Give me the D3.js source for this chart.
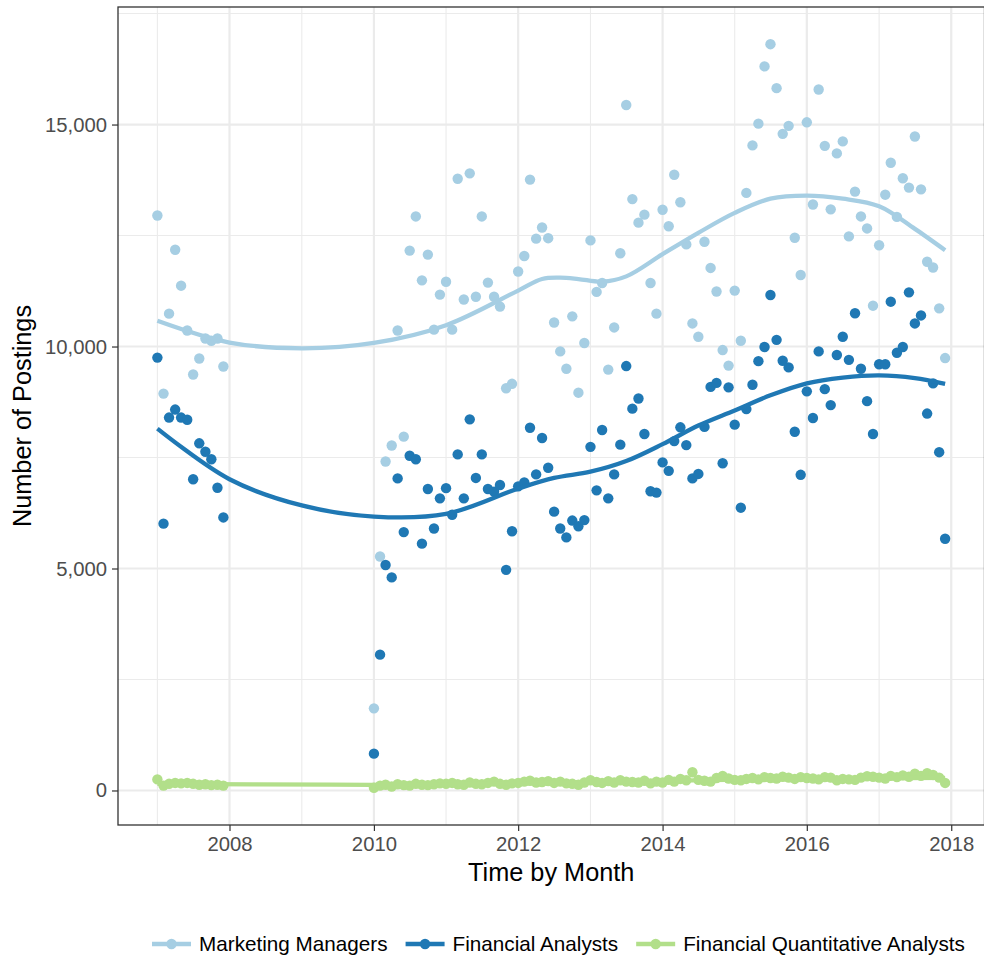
<!DOCTYPE html>
<html>
<head>
<meta charset="utf-8">
<script src="https://cdn.jsdelivr.net/npm/d3@7"></script>
<style>
  html, body { margin: 0; padding: 0; background: #ffffff; }
  svg { display: block; font-family: "Liberation Sans", Arial, Helvetica, sans-serif; }
</style>
</head>
<body>
<svg id="chart" width="984" height="963"></svg>
<script>
// Monthly observation periods: 2007, then 2010 through 2017
const periods = [
  ...d3.timeMonth.range(new Date(2007, 0, 1), new Date(2008, 0, 1)),
  ...d3.timeMonth.range(new Date(2010, 0, 1), new Date(2018, 0, 1))
];

const seriesNames = ["Marketing Managers", "Financial Analysts", "Financial Quantitative Analysts"];
const seriesColors = ["#A6CEE3", "#1F78B4", "#B2DF8A"];

// Monthly postings, one row per year
const marketingManagers = [
  12950, 8940, 10740, 12180, 11370, 10360, 9370, 9730, 10180, 10130, 10180, 9550,
  1850, 5270, 7410, 7770, 10360, 7970, 12160, 12930, 11490, 12070, 10380, 11170,
  11460, 10380, 13780, 11060, 13900, 11120, 12930, 11440, 11120, 10900, 9060, 9160,
  11690, 12040, 13760, 12430, 12680, 12440, 10540, 9890, 9500, 10680, 8960, 10080,
  12390, 11230, 11430, 9480, 10430, 12100, 15440, 13320, 12790, 12970, 11430, 10740,
  13080, 12710, 13870, 13250, 12300, 10520, 10220, 12360, 11770, 11240, 9920, 9570,
  11260, 10130, 13460, 14530, 15020, 16310, 16810, 15820, 14790, 14970, 12450, 11610,
  15050, 13200, 15790, 14520, 13090, 14350, 14620, 12480, 13490, 12930, 12660, 10920,
  12280, 13420, 14140, 12920, 13790, 13580, 14730, 13540, 11910, 11780, 10860, 9740
];

const financialAnalysts = [
  9750, 6010, 8400, 8580, 8400, 8350, 7010, 7820, 7630, 7460, 6820, 6150,
  830, 3060, 5080, 4800, 7030, 5820, 7540, 7460, 5560, 6790, 5900, 6580,
  6810, 6210, 7570, 6580, 8360, 7040, 7570, 6790, 6730, 6880, 4970, 5840,
  6850, 6940, 8170, 7120, 7940, 7270, 6280, 5900, 5700, 6080, 5950, 6090,
  7740, 6760, 8120, 6580, 7120, 7790, 9560, 8600, 8830, 8030, 6740, 6710,
  7390, 7200, 7870, 8180, 7780, 7030, 7130, 8190, 9090, 9180, 7370, 9080,
  8240, 6370, 8590, 9140, 9670, 9990, 11160, 10150, 9680, 9530, 8080, 7110,
  8990, 8390, 9890, 9040, 8680, 9810, 10220, 9700, 10750, 9500, 8770, 8030,
  9600, 9600, 11010, 9860, 9990, 11220, 10520, 10700, 8490, 9170, 7620, 5670
];

const quantAnalysts = [
  250, 110, 150, 170, 160, 170, 150, 130, 140, 120, 130, 110,
  60, 110, 130, 90, 140, 120, 110, 150, 130, 120, 140, 160,
  150, 170, 140, 130, 180, 150, 140, 170, 200, 150, 130, 160,
  170, 200, 220, 180, 190, 210, 170, 200, 160, 150, 130, 180,
  230, 190, 170, 210, 180, 230, 200, 190, 180, 220, 160, 200,
  180, 240, 200, 260, 230, 410, 240, 220, 200, 280, 330, 270,
  240, 230, 260, 280, 250, 300, 280, 270, 310, 290, 260, 300,
  280, 270, 250, 300, 290, 230, 260, 250, 240, 290, 320, 310,
  290, 270, 330, 300, 340, 310, 380, 330, 390, 350, 290, 170
];

// Smoothed trend for each series: [year, month (1-12), value]
const marketingTrend = [
  [2007, 1, 10580], [2008, 1, 10090], [2009, 1, 9960], [2010, 1, 10080],
  [2011, 1, 10480], [2012, 1, 11260], [2012, 5, 11520], [2012, 8, 11550],
  [2012, 11, 11520], [2013, 3, 11460], [2013, 7, 11580], [2014, 1, 12080],
  [2014, 7, 12560], [2015, 1, 13010], [2015, 7, 13330], [2016, 1, 13400],
  [2016, 7, 13330], [2017, 1, 13160], [2017, 7, 12650], [2017, 12, 12170]
];
const financialTrend = [
  [2007, 1, 8150], [2008, 1, 7010], [2009, 1, 6420], [2010, 1, 6170],
  [2011, 1, 6230], [2012, 1, 6800], [2012, 7, 7040], [2013, 1, 7180],
  [2013, 7, 7420], [2014, 1, 7800], [2014, 7, 8220], [2015, 1, 8560],
  [2015, 7, 8900], [2016, 1, 9170], [2016, 7, 9300], [2017, 1, 9350],
  [2017, 7, 9290], [2017, 12, 9160]
];
const quantTrend = [
  [2007, 1, 150], [2009, 6, 130], [2010, 6, 125], [2012, 1, 160],
  [2014, 1, 215], [2016, 1, 265], [2017, 12, 285]
];

const yTickValues = [0, 5000, 10000, 15000];
const xTickYears = [2008, 2010, 2012, 2014, 2016, 2018];

const seriesValues = [marketingManagers, financialAnalysts, quantAnalysts];
const seriesTrends = [marketingTrend, financialTrend, quantTrend];

// ---- layout ----
const panel = { left: 118, right: 984.5, top: 7, bottom: 825 };
const svg = d3.select("#chart");

// domains with 5% padding on both ends
const xExt = d3.extent(periods);
const xPad = (xExt[1] - xExt[0]) * 0.05;
const x = d3.scaleTime()
  .domain([new Date(+xExt[0] - xPad), new Date(+xExt[1] + xPad)])
  .range([panel.left, panel.right]);

const allVals = seriesValues.flat();
const yExt = d3.extent(allVals);
const yPad = (yExt[1] - yExt[0]) * 0.05;
const y = d3.scaleLinear()
  .domain([yExt[0] - yPad, yExt[1] + yPad])
  .range([panel.bottom, panel.top]);

// panel background
svg.append("rect")
  .attr("x", panel.left).attr("y", panel.top)
  .attr("width", panel.right - panel.left).attr("height", panel.bottom - panel.top)
  .attr("fill", "#ffffff");

const grid = svg.append("g");
// minor grid
const yMinor = [2500, 7500, 12500, 17500].filter(v => v >= y.domain()[0] && v <= y.domain()[1]);
const xMinor = [2007, 2009, 2011, 2013, 2015, 2017].map(yr => new Date(yr, 0, 1));
grid.selectAll(".ymin").data(yMinor).join("line")
  .attr("x1", panel.left).attr("x2", panel.right)
  .attr("y1", d => y(d)).attr("y2", d => y(d))
  .attr("stroke", "#EBEBEB").attr("stroke-width", 1.1);
grid.selectAll(".xmin").data(xMinor).join("line")
  .attr("y1", panel.top).attr("y2", panel.bottom)
  .attr("x1", d => x(d)).attr("x2", d => x(d))
  .attr("stroke", "#EBEBEB").attr("stroke-width", 1.1);
// major grid
const xMajor = xTickYears.map(yr => new Date(yr, 0, 1));
grid.selectAll(".ymaj").data(yTickValues).join("line")
  .attr("x1", panel.left).attr("x2", panel.right)
  .attr("y1", d => y(d)).attr("y2", d => y(d))
  .attr("stroke", "#EBEBEB").attr("stroke-width", 2.2);
grid.selectAll(".xmaj").data(xMajor).join("line")
  .attr("y1", panel.top).attr("y2", panel.bottom)
  .attr("x1", d => x(d)).attr("x2", d => x(d))
  .attr("stroke", "#EBEBEB").attr("stroke-width", 2.2);

// points
const pointsG = svg.append("g");
seriesValues.forEach((vals, si) => {
  pointsG.append("g").selectAll("circle")
    .data(vals.map((v, i) => ({ date: periods[i], value: v })))
    .join("circle")
    .attr("cx", d => x(d.date))
    .attr("cy", d => y(d.value))
    .attr("r", 5.2)
    .attr("fill", seriesColors[si]);
});

// smoothed trend lines
const line = d3.line()
  .x(d => x(new Date(d[0], d[1] - 1, 1)))
  .y(d => y(d[2]))
  .curve(d3.curveCatmullRom.alpha(0.5));
seriesTrends.forEach((tr, si) => {
  svg.append("path")
    .attr("d", line(tr))
    .attr("fill", "none")
    .attr("stroke", seriesColors[si])
    .attr("stroke-width", 4.3)
    .attr("stroke-linecap", "butt");
});

// panel border
svg.append("rect")
  .attr("x", panel.left).attr("y", panel.top)
  .attr("width", panel.right - panel.left).attr("height", panel.bottom - panel.top)
  .attr("fill", "none").attr("stroke", "#333333").attr("stroke-width", 1.3);

// axes
const tickColor = "#333333";
const labelColor = "#4D4D4D";
const xAxis = d3.axisBottom(x)
  .tickValues(xMajor)
  .tickFormat(d3.timeFormat("%Y"))
  .tickSize(6)
  .tickPadding(6);
const yAxis = d3.axisLeft(y)
  .tickValues(yTickValues)
  .tickFormat(d3.format(","))
  .tickSize(6)
  .tickPadding(5);

const gx = svg.append("g").attr("transform", `translate(0,${panel.bottom})`).call(xAxis);
const gy = svg.append("g").attr("transform", `translate(${panel.left},0)`).call(yAxis);
[gx, gy].forEach(g => {
  g.select(".domain").remove();
  g.selectAll(".tick line").attr("stroke", tickColor).attr("stroke-width", 1.2);
  g.selectAll(".tick text")
    .attr("fill", labelColor)
    .style("font-size", "20.3px")
    .style("font-family", "'Liberation Sans', Arial, Helvetica, sans-serif");
});

// axis titles
svg.append("text")
  .attr("x", (panel.left + panel.right) / 2)
  .attr("y", 881)
  .attr("text-anchor", "middle")
  .style("font-size", "25.3px")
  .attr("fill", "#000000")
  .text("Time by Month");
svg.append("text")
  .attr("transform", `translate(31,${(panel.top + panel.bottom) / 2}) rotate(-90)`)
  .attr("text-anchor", "middle")
  .style("font-size", "25.3px")
  .attr("fill", "#000000")
  .text("Number of Postings");

// legend
const legend = svg.append("g");
const keyW = 39, keyGap = 8, itemGap = 18, legendY = 944;
let cx = 152;
seriesNames.forEach((name, si) => {
  const item = legend.append("g");
  item.append("line")
    .attr("x1", cx).attr("x2", cx + keyW)
    .attr("y1", legendY).attr("y2", legendY)
    .attr("stroke", seriesColors[si]).attr("stroke-width", 4.3);
  item.append("circle")
    .attr("cx", cx + keyW / 2).attr("cy", legendY)
    .attr("r", 5.2).attr("fill", seriesColors[si]);
  const t = item.append("text")
    .attr("x", cx + keyW + keyGap)
    .attr("y", legendY + 7)
    .style("font-size", "20.7px")
    .attr("fill", "#000000")
    .text(name);
  cx += keyW + keyGap + t.node().getComputedTextLength() + itemGap;
});
</script>
</body>
</html>
